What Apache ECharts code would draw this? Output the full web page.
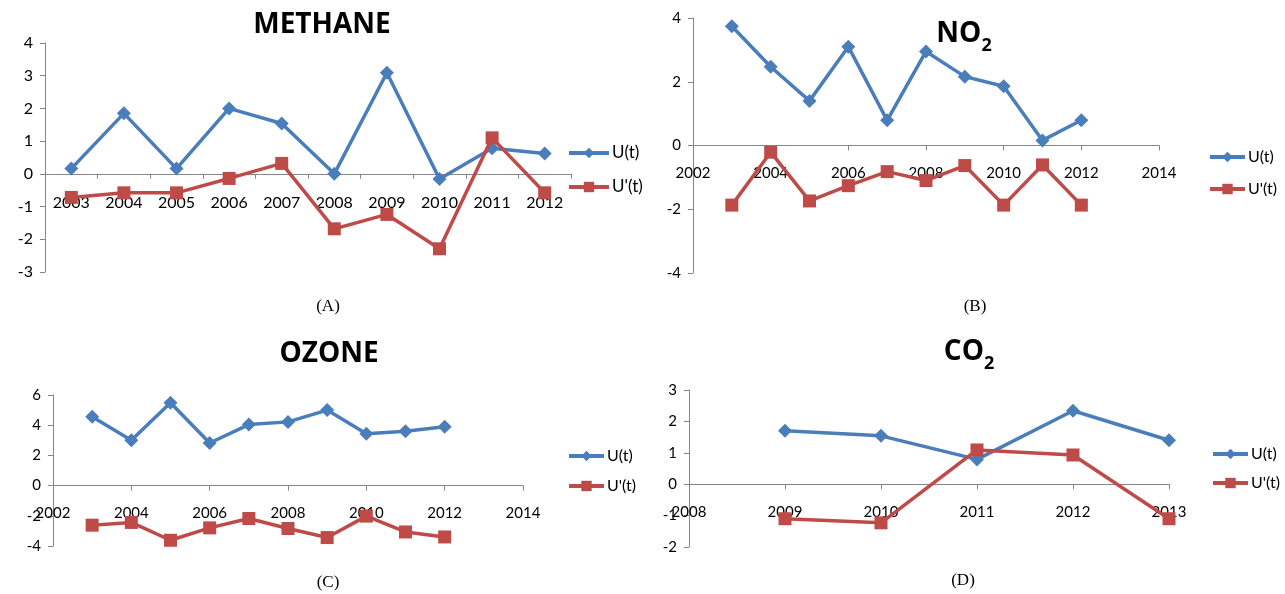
<!DOCTYPE html>
<html>
<head>
<meta charset="utf-8">
<script src="https://cdn.jsdelivr.net/npm/echarts@6/dist/echarts.min.js"></script>
<style>
html,body{margin:0;padding:0;background:#fff;}
#chart{width:1285px;height:594px;}
</style>
</head>
<body>
<div id="chart"></div>
<script>
// ---- data ----
const methaneYears = ['2003','2004','2005','2006','2007','2008','2009','2010','2011','2012'];
const methaneU  = [0.16, 1.85, 0.16, 2.00, 1.54, 0.00, 3.09, -0.16, 0.78, 0.62];
const methaneUp = [-0.72, -0.58, -0.58, -0.14, 0.32, -1.68, -1.24, -2.29, 1.10, -0.58];

const no2Years = [2003, 2004, 2005, 2006, 2007, 2008, 2009, 2010, 2011, 2012];
const no2U  = [3.74, 2.47, 1.40, 3.10, 0.79, 2.95, 2.16, 1.86, 0.16, 0.79];
const no2Up = [-1.87, -0.21, -1.74, -1.26, -0.82, -1.10, -0.63, -1.87, -0.61, -1.87];

const ozoneYears = [2003, 2004, 2005, 2006, 2007, 2008, 2009, 2010, 2011, 2012];
const ozoneU  = [4.56, 3.00, 5.49, 2.82, 4.04, 4.22, 5.00, 3.44, 3.60, 3.89];
const ozoneUp = [-2.62, -2.44, -3.62, -2.80, -2.18, -2.84, -3.44, -2.02, -3.07, -3.40];

const co2Years = [2009, 2010, 2011, 2012, 2013];
const co2U  = [1.70, 1.54, 0.79, 2.34, 1.40];
const co2Up = [-1.10, -1.23, 1.09, 0.93, -1.10];

const seriesNames = ['U(t)', "U'(t)"];
const panelTitles = ['METHANE', 'NO', 'OZONE', 'CO'];
const panelCaptions = ['(A)', '(B)', '(C)', '(D)'];

// y ranges [min, max, interval]
const yRangeA = [-3, 4, 1];
const yRangeB = [-4, 4, 2];
const yRangeC = [-4, 6, 2];
const yRangeD = [-2, 3, 1];

// ---- styles / layout ----
const BLUE = '#4A7EBB';
const RED = '#BE4B48';
const AXIS = '#868686';
const FONT = 'Lato';
const grids = [
  { left: 45, top: 43, width: 526, height: 229 },
  { left: 693, top: 18, width: 466, height: 255 },
  { left: 53, top: 395, width: 470, height: 151 },
  { left: 689, top: 390, width: 480, height: 157 }
];

function pairs(xs, ys) { return xs.map((x, i) => [x, ys[i]]); }
// move the x axis up so it sits on the y-axis zero
function zeroOffset(g, r) { return -grids[g].height * (0 - r[0]) / (r[1] - r[0]); }

function xValueAxis(grid, min, max, interval, r) {
  return {
    type: 'value', gridIndex: grid, min: min, max: max, interval: interval,
    offset: zeroOffset(grid, r),
    axisLine: { show: true, onZero: false, lineStyle: { color: AXIS, width: 1 } },
    axisTick: { show: true, length: 5, lineStyle: { color: AXIS } },
    axisLabel: { color: '#000', fontSize: 15, fontFamily: FONT, margin: 20, showMinLabel: true, showMaxLabel: true,
      formatter: v => String(v) },
    splitLine: { show: false }
  };
}
function yValueAxis(grid, r, fs) {
  return {
    type: 'value', gridIndex: grid, min: r[0], max: r[1], interval: r[2],
    axisLine: { show: true, onZero: false, lineStyle: { color: AXIS, width: 1 } },
    axisTick: { show: true, length: 5, lineStyle: { color: AXIS } },
    axisLabel: { color: '#000', fontSize: fs, fontFamily: FONT, margin: 12 },
    splitLine: { show: false }
  };
}
function lineSeries(name, isU, xi, yi, data) {
  return {
    type: 'line', name: name, xAxisIndex: xi, yAxisIndex: yi, data: data,
    symbol: isU ? 'diamond' : 'rect', symbolSize: isU ? 14 : 13,
    lineStyle: { width: 3.5, color: isU ? BLUE : RED },
    itemStyle: { color: isU ? BLUE : RED },
    emphasis: { disabled: true }, animation: false, z: isU ? 2 : 3
  };
}
function legend(left, top, gap, w, fs) {
  return {
    left: left, top: top, orient: 'vertical', itemGap: gap, padding: 0,
    itemWidth: w, itemHeight: 13, data: seriesNames,
    lineStyle: { width: 4 },
    textStyle: { fontSize: fs, fontFamily: FONT, color: '#000', lineHeight: 18, padding: [0, 0, 0, -2] },
    selectedMode: false
  };
}
const titleFont = { fontFamily: '"Open Sans"', fontWeight: 'bold', fontSize: 28, lineHeight: 32, verticalAlign: 'top' };
const subFont = { fontFamily: '"Open Sans"', fontWeight: 'bold', fontSize: 18, lineHeight: 18, verticalAlign: 'top', padding: [17, 0, 0, 0] };
function titleText(x, y, main, sub) {
  const text = sub ? '{m|' + main + '}{s|' + sub + '}' : '{m|' + main + '}';
  return {
    type: 'text', x: x, y: y,
    style: { text: text, align: 'center', verticalAlign: 'top', fill: '#000', rich: { m: titleFont, s: subFont } }
  };
}
function caption(x, y, t) {
  return {
    type: 'text', x: x, y: y,
    style: { text: t, align: 'center', verticalAlign: 'middle', fill: '#000', font: '17px "Liberation Serif"' }
  };
}

const option = {
  backgroundColor: '#fff',
  animation: false,
  grid: grids,
  xAxis: [
    {
      type: 'category', gridIndex: 0, data: methaneYears, boundaryGap: true,
      offset: zeroOffset(0, yRangeA),
      axisLine: { show: true, onZero: false, lineStyle: { color: AXIS, width: 1 } },
      axisTick: { show: true, length: 5, lineStyle: { color: AXIS } },
      axisLabel: { color: '#000', fontSize: 16, fontFamily: FONT, margin: 21, interval: 0 },
      splitLine: { show: false }
    },
    xValueAxis(1, 2002, 2014, 2, yRangeB),
    xValueAxis(2, 2002, 2014, 2, yRangeC),
    xValueAxis(3, 2008, 2013, 1, yRangeD)
  ],
  yAxis: [
    yValueAxis(0, yRangeA, 16),
    yValueAxis(1, yRangeB, 15),
    yValueAxis(2, yRangeC, 15),
    yValueAxis(3, yRangeD, 15)
  ],
  legend: [
    legend(567, 144, 16, 40, 17),
    legend(1208, 148, 14, 35, 16),
    legend(567, 447, 12, 35, 16),
    legend(1211, 445, 11, 35, 16)
  ],
  series: [
    lineSeries(seriesNames[0], true, 0, 0, methaneU),
    lineSeries(seriesNames[1], false, 0, 0, methaneUp),
    lineSeries(seriesNames[0], true, 1, 1, pairs(no2Years, no2U)),
    lineSeries(seriesNames[1], false, 1, 1, pairs(no2Years, no2Up)),
    lineSeries(seriesNames[0], true, 2, 2, pairs(ozoneYears, ozoneU)),
    lineSeries(seriesNames[1], false, 2, 2, pairs(ozoneYears, ozoneUp)),
    lineSeries(seriesNames[0], true, 3, 3, pairs(co2Years, co2U)),
    lineSeries(seriesNames[1], false, 3, 3, pairs(co2Years, co2Up))
  ],
  graphic: [
    titleText(322, 11, panelTitles[0]),
    titleText(964, 20, panelTitles[1], '2'),
    titleText(329, 340, panelTitles[2]),
    titleText(969, 338, panelTitles[3], '2'),
    caption(328, 307, panelCaptions[0]),
    caption(975, 307, panelCaptions[1]),
    caption(328, 583, panelCaptions[2]),
    caption(963, 581, panelCaptions[3])
  ]
};

const chart = echarts.init(document.getElementById('chart'), null, { renderer: 'canvas' });
chart.setOption(option);
</script>
</body>
</html>
